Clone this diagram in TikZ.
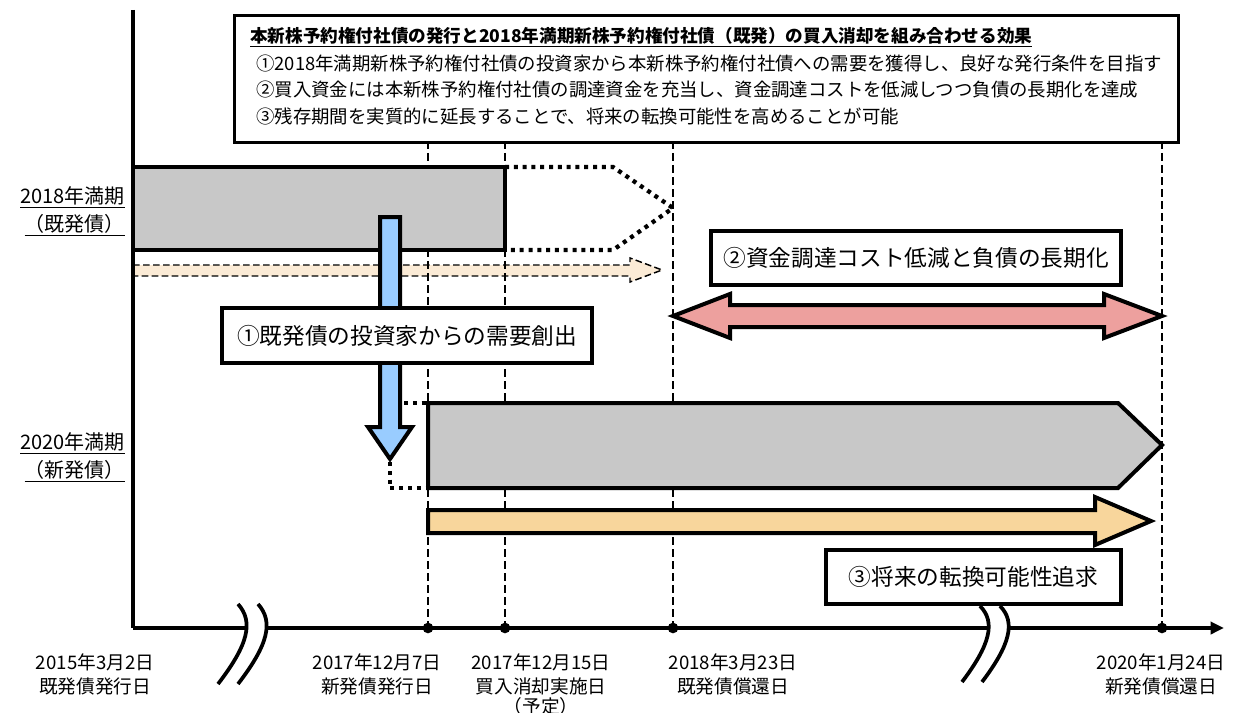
\documentclass[tikz,border=0pt]{standalone}
\usepackage{fontspec}
\setmainfont{Noto Sans CJK JP}
\usetikzlibrary{arrows.meta}
\definecolor{bargray}{HTML}{C8C8C8}
\definecolor{bblue}{HTML}{99CCFF}
\definecolor{bpink}{HTML}{EDA09E}
\definecolor{borange}{HTML}{F8D69C}
\definecolor{bbeige}{HTML}{FBEBD6}
\tikzset{
  thickline/.style={line width=3pt, line join=miter},
  dotline/.style={line width=3.2pt, dash pattern=on 3pt off 3.6pt},
  vdash/.style={line width=1.3pt, dash pattern=on 6pt off 3pt},
  vdashthick/.style={line width=1.8pt, dash pattern=on 6pt off 3pt},
  labelbox/.style={draw, line width=2.4pt, fill=white, minimum height=0pt, inner sep=0pt, font=\fontsize{17}{20}\selectfont},
  datelbl/.style={font=\fontsize{14}{16}\selectfont, inner sep=0pt},
  sidelbl/.style={font=\fontsize{15}{18}\selectfont, anchor=east, inner sep=0pt},
  hdr/.style={font=\fontsize{13.8}{16}\selectfont, anchor=west, inner sep=0pt},
  tickdot/.style={circle, fill=black, inner sep=0pt, minimum size=8pt}
}
\begin{document}
\begin{tikzpicture}[x=0.75pt, y=-0.75pt]
\useasboundingbox (0,0) rectangle (1234,713);

% beige dashed arrow
\draw[fill=bbeige, line width=1.1pt, dash pattern=on 5pt off 2.5pt]
  (133,265) -- (630,265) -- (630,258) -- (662,270) -- (630,282) -- (630,276) -- (133,276) -- cycle;

% vertical dashed guide lines
\coordinate (t1) at (428,141); \coordinate (b1) at (428,628);
\coordinate (t2) at (505,141); \coordinate (b2) at (505,628);
\coordinate (t3) at (673,141); \coordinate (b3) at (673,628);
\coordinate (t4) at (1162,141); \coordinate (b4) at (1162,628);
\draw[vdash] (t1) -- (b1);
\draw[vdash] (t2) -- (b2);
\draw[vdashthick] (t3) -- (b3);
\draw[vdash] (t4) -- (b4);

% header box
\node[draw, line width=2.6pt, fill=white, minimum width=944*0.75pt, minimum height=127*0.75pt, anchor=north west, inner sep=0pt] (hbox) at (233,14) {};
\node[hdr, font=\fontsize{13.2}{15}\selectfont\bfseries] (h0) at (250,37) {\underline{本新株予約権付社債の発行と2018年満期新株予約権付社債（既発）の買入消却を組み合わせる効果}};
\node[hdr] (h1) at (256,64) {①2018年満期新株予約権付社債の投資家から本新株予約権付社債への需要を獲得し、良好な発行条件を目指す};
\node[hdr] (h2) at (256,90) {②買入資金には本新株予約権付社債の調達資金を充当し、資金調達コストを低減しつつ負債の長期化を達成};
\node[hdr] (h3) at (256,116) {③残存期間を実質的に延長することで、将来の転換可能性を高めることが可能};

% 2018 bond bar
\draw[thickline, fill=bargray] (133,167) rectangle (505,250);
\draw[dotline] (505,167) -- (613,167) -- (673,208) -- (613,250) -- (505,250);

% pink double arrow
\draw[thickline, fill=bpink] (673,316) -- (730,294) -- (730,305) -- (1104,305) -- (1104,294) -- (1162,316)
  -- (1104,338) -- (1104,327) -- (730,327) -- (730,338) -- cycle;

% 2020 bond bar
\draw[thickline, fill=bargray] (428,403) -- (1118,403) -- (1162,445) -- (1118,488) -- (428,488) -- cycle;
\draw[dotline] (404,403) -- (428,403);
\draw[dotline] (390,462) -- (390,488) -- (428,488);

% orange arrow
\draw[thickline, fill=borange] (428,510) -- (1095,510) -- (1095,497) -- (1151,521) -- (1095,545) -- (1095,533) -- (428,533) -- cycle;

% blue arrow
\draw[thickline, fill=bblue] (380,217) -- (400,217) -- (400,427) -- (412,427) -- (390,459) -- (368,427) -- (380,427) -- cycle;

% label boxes
\node[labelbox, minimum width=370*0.75pt, minimum height=55*0.75pt] (l1) at (407,335.5) {①既発債の投資家からの需要創出};
\node[labelbox, minimum width=410*0.75pt, minimum height=54*0.75pt] (l2) at (916,258) {②資金調達コスト低減と負債の長期化};
\node[labelbox, minimum width=295*0.75pt, minimum height=54*0.75pt] (l3) at (973.5,577) {③将来の転換可能性追求};

% side labels
\node[sidelbl] (s1) at (125,197) {\underline{2018年満期}};
\node[sidelbl] (s2) at (125,225) {\underline{（既発債）}};
\node[sidelbl] (s3) at (125,443) {\underline{2020年満期}};
\node[sidelbl] (s4) at (125,471) {\underline{（新発債）}};

% axes
\coordinate (top) at (133,10);
\coordinate (orig) at (133,628);
\coordinate (xend) at (1224,628);
\draw[line width=2.6pt] (top) -- (orig);
\draw[line width=2.6pt, -{Triangle[length=10pt, width=9pt]}] (orig) -- (xend);

% axis breaks
\fill[white] (238,604) .. controls (254,622) and (248,645) .. (218,684) -- (238,684) .. controls (268,645) and (274,622) .. (258,604) -- cycle;
\draw[line width=2.8pt] (238,604) .. controls (254,622) and (248,645) .. (218,684);
\draw[line width=2.8pt] (258,604) .. controls (274,622) and (268,645) .. (238,684);
\fill[white] (980,606) .. controls (996,622) and (990,645) .. (962,682) -- (982,682) .. controls (1010,645) and (1016,622) .. (1000,606) -- cycle;
\draw[line width=2.8pt] (980,606) .. controls (996,622) and (990,645) .. (962,682);
\draw[line width=2.8pt] (1000,606) .. controls (1016,622) and (1010,645) .. (982,682);

% ticks
\node[tickdot] (d1) at (b1) {};
\node[tickdot] (d2) at (b2) {};
\node[tickdot] (d3) at (b3) {};
\node[tickdot] (d4) at (b4) {};

% date labels
\node[datelbl] (a1) at (95,662) {2015年3月2日};
\node[datelbl] (a1b) at (95,686) {既発債発行日};
\node[datelbl] (a2) at (377,662) {2017年12月7日};
\node[datelbl] (a2b) at (377,686) {新発債発行日};
\node[datelbl] (a3) at (541,662) {2017年12月15日};
\node[datelbl] (a3b) at (541,686) {買入消却実施日};
\node[datelbl] (a3c) at (541,706) {（予定）};
\node[datelbl] (a4) at (733,662) {2018年3月23日};
\node[datelbl] (a4b) at (733,686) {既発債償還日};
\node[datelbl] (a5) at (1161,662) {2020年1月24日};
\node[datelbl] (a5b) at (1161,686) {新発債償還日};
\end{tikzpicture}
\end{document}
